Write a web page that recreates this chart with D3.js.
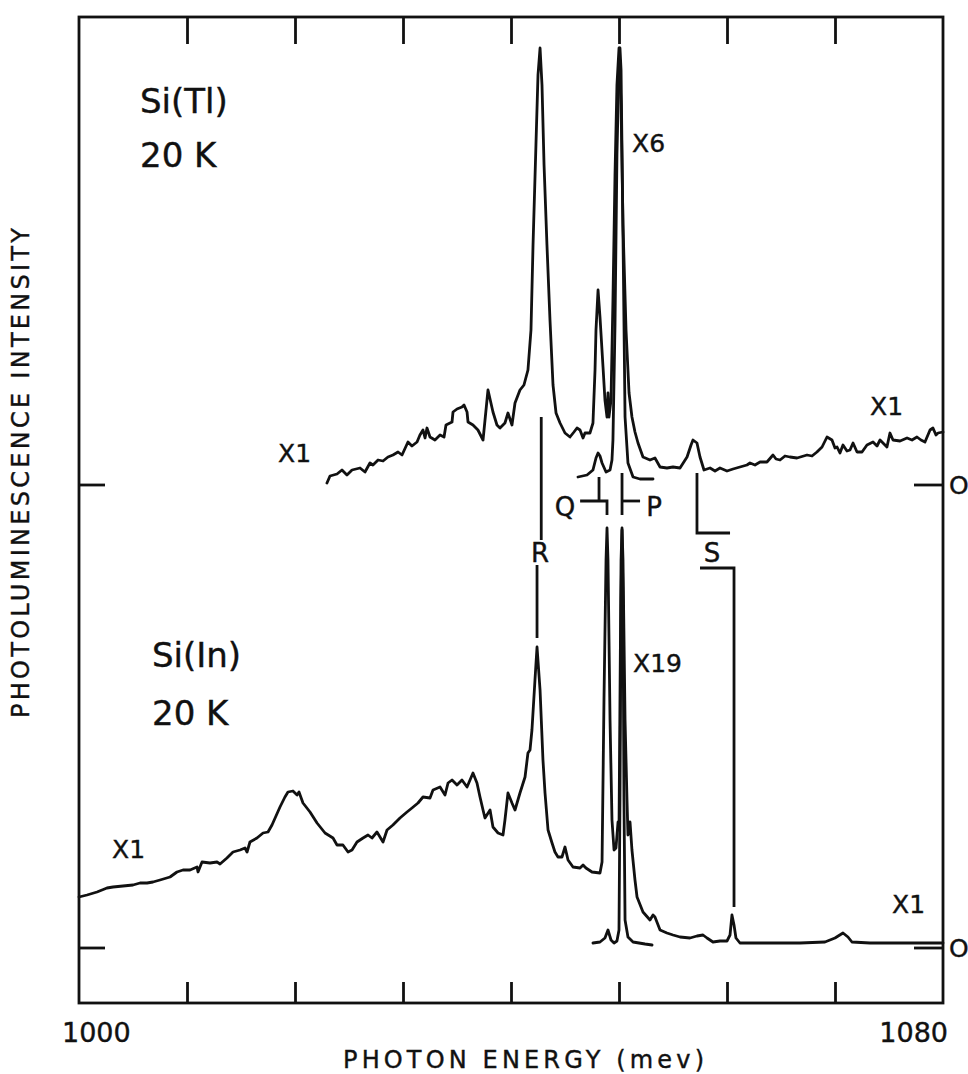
<!DOCTYPE html>
<html>
<head>
<meta charset="utf-8">
<script src="https://cdn.jsdelivr.net/npm/d3@7/dist/d3.min.js"></script>
<style>
  body { margin: 0; background: #fff; }
  text { font-family: "DejaVu Sans", sans-serif; fill: #111; stroke: #111; stroke-width: 0.4; }
  .trace { fill: none; stroke: #111; stroke-width: 2.8; stroke-linejoin: round; stroke-linecap: round; }
  .mark { fill: none; stroke: #111; stroke-width: 2.8; }
</style>
</head>
<body>
<script>
// photon energy axis (meV)
var energyTicks = [1000, 1010, 1020, 1030, 1040, 1050, 1060, 1070, 1080];
var energyLabels = [1000, 1080];

// Si(Tl), 20 K  -- main trace, [energy meV, intensity a.u.]
var tlMain = [
  [1022.96, 2], [1023.24, 9], [1023.89, 11], [1024.35, 15], [1024.81, 10], [1025.28, 15],
  [1026.02, 17], [1026.48, 13], [1026.94, 22], [1027.22, 20], [1027.69, 25], [1028.15, 24],
  [1028.61, 28], [1029.07, 30], [1029.54, 33], [1029.91, 30], [1030.46, 43], [1030.83, 39],
  [1031.30, 43], [1031.57, 50], [1031.85, 55], [1032.04, 47], [1032.22, 57], [1032.50, 48],
  [1032.96, 45], [1033.43, 50], [1033.80, 48], [1033.98, 60], [1034.54, 63], [1034.63, 73],
  [1035.00, 76], [1035.46, 78], [1035.65, 80], [1035.93, 73], [1036.02, 63], [1036.48, 60],
  [1036.94, 55], [1037.41, 45], [1037.87, 95], [1038.33, 73], [1038.70, 60], [1038.98, 57],
  [1039.44, 62], [1039.72, 72], [1040.09, 60], [1040.37, 82], [1040.83, 95], [1041.20, 100],
  [1041.57, 115], [1041.85, 155], [1042.04, 240], [1042.31, 340], [1042.50, 410], [1042.69, 437],
  [1042.87, 400], [1043.06, 320], [1043.33, 240], [1043.61, 165], [1043.89, 100], [1044.17, 72],
  [1044.54, 62], [1045.00, 52], [1045.46, 48], [1045.83, 53], [1046.11, 57], [1046.39, 55],
  [1046.67, 47], [1046.85, 52], [1047.31, 52], [1047.59, 62], [1047.78, 115], [1047.87, 155],
  [1048.06, 195], [1048.24, 168], [1048.52, 118], [1048.70, 85], [1048.89, 68], [1048.98, 92],
  [1049.07, 68], [1049.26, 85], [1049.44, 185], [1049.63, 310], [1049.81, 400], [1050.00, 437],
  [1050.19, 380], [1050.37, 260], [1050.65, 155], [1050.93, 92], [1051.20, 68], [1051.48, 53],
  [1051.76, 42], [1052.22, 28], [1052.87, 25], [1053.33, 27], [1053.80, 18], [1054.44, 17],
  [1055.00, 18], [1055.65, 17], [1056.30, 28], [1056.67, 40], [1056.85, 45], [1057.22, 42],
  [1057.50, 28], [1057.87, 15], [1058.43, 17], [1058.89, 14], [1059.35, 17], [1060.00, 14],
  [1060.56, 16], [1061.20, 18], [1061.85, 20], [1062.13, 22], [1062.59, 20], [1063.06, 23],
  [1063.70, 23], [1064.26, 30], [1064.54, 26], [1064.91, 25], [1065.37, 29], [1065.83, 28],
  [1066.48, 27], [1067.41, 30], [1067.87, 29], [1068.33, 33], [1068.80, 38], [1069.26, 48],
  [1069.72, 45], [1070.00, 37], [1070.19, 38], [1070.46, 32], [1070.74, 40], [1071.11, 34],
  [1071.39, 35], [1071.67, 42], [1072.04, 33], [1072.50, 33], [1072.96, 40], [1073.52, 43],
  [1073.89, 39], [1074.17, 45], [1074.81, 38], [1075.09, 52], [1075.37, 45], [1076.02, 44],
  [1076.67, 47], [1077.13, 45], [1077.59, 48], [1077.96, 45], [1078.33, 43], [1078.80, 55],
  [1079.07, 57], [1079.35, 50], [1079.54, 52], [1080.00, 53]
];

// Si(Tl) -- low gain trace under the P/Q lines
var tlLow = [
  [1046.20, 8], [1047.04, 10], [1047.59, 15], [1047.87, 27], [1048.06, 32], [1048.24, 29],
  [1048.43, 22], [1048.80, 13], [1049.17, 15], [1049.35, 25], [1049.44, 45], [1049.63, 160],
  [1049.81, 330], [1050.00, 420], [1050.09, 437], [1050.19, 415], [1050.37, 250], [1050.56, 68],
  [1050.83, 22], [1051.30, 8], [1051.94, 6], [1053.15, 6]
];

// Si(In), 20 K -- main trace
var inMain = [
  [1000.00, 51], [1000.74, 53], [1001.67, 56], [1002.59, 60], [1003.15, 61], [1004.07, 62],
  [1005.00, 63], [1005.65, 65], [1006.30, 65], [1006.85, 66], [1007.50, 68], [1008.43, 71],
  [1009.07, 76], [1009.63, 78], [1010.28, 78], [1010.93, 81], [1011.02, 76], [1011.39, 86],
  [1012.13, 85], [1012.78, 86], [1013.06, 84], [1013.70, 90], [1014.26, 96], [1014.91, 98],
  [1015.37, 100], [1015.56, 96], [1015.83, 106], [1016.48, 110], [1017.04, 115], [1017.50, 116],
  [1017.87, 123], [1018.24, 132], [1018.61, 141], [1019.07, 151], [1019.35, 156], [1019.81, 157],
  [1020.19, 153], [1020.37, 156], [1020.74, 145], [1021.39, 136], [1022.04, 125], [1022.78, 115],
  [1023.52, 110], [1023.89, 103], [1024.44, 103], [1024.91, 96], [1025.28, 98], [1025.74, 106],
  [1026.30, 110], [1026.76, 113], [1027.13, 110], [1027.59, 116], [1028.15, 106], [1028.52, 118],
  [1029.07, 123], [1029.72, 130], [1030.37, 136], [1030.83, 140], [1031.39, 145], [1031.85, 151],
  [1032.50, 150], [1032.78, 158], [1033.43, 161], [1033.89, 153], [1034.17, 165], [1034.54, 168],
  [1035.00, 163], [1035.46, 168], [1035.93, 161], [1036.48, 175], [1036.85, 165], [1037.13, 151],
  [1037.41, 138], [1037.59, 130], [1038.06, 138], [1038.33, 121], [1038.80, 115], [1039.26, 113],
  [1039.44, 128], [1039.72, 155], [1040.09, 145], [1040.37, 138], [1040.83, 155], [1041.30, 171],
  [1041.57, 195], [1041.76, 198], [1041.94, 218], [1042.22, 268], [1042.41, 301], [1042.69, 258],
  [1042.96, 188], [1043.15, 155], [1043.43, 118], [1043.80, 105], [1044.07, 96], [1044.35, 91],
  [1044.72, 91], [1045.00, 101], [1045.28, 88], [1045.74, 81], [1046.39, 80], [1046.67, 83],
  [1046.94, 80], [1047.50, 76], [1048.24, 75], [1048.43, 86], [1048.61, 248], [1048.80, 388],
  [1048.89, 420], [1048.98, 388], [1049.17, 228], [1049.35, 128], [1049.54, 98], [1049.72, 100],
  [1049.91, 126], [1050.00, 118], [1050.09, 248], [1050.19, 388], [1050.28, 420], [1050.37, 388],
  [1050.56, 228], [1050.74, 148], [1050.83, 113], [1051.02, 126], [1051.20, 98], [1051.48, 68],
  [1051.67, 51], [1052.22, 36], [1052.87, 28], [1053.15, 33], [1053.33, 31], [1053.80, 18],
  [1054.44, 15], [1055.00, 13], [1055.65, 11], [1056.57, 10], [1057.22, 12], [1057.78, 13],
  [1058.15, 10], [1058.70, 6], [1059.35, 7], [1060.00, 7], [1060.28, 13], [1060.46, 33],
  [1060.65, 23], [1060.83, 10], [1061.20, 5], [1063.06, 5], [1066.76, 5], [1069.07, 6],
  [1070.00, 10], [1070.74, 15], [1071.20, 11], [1071.57, 6], [1073.24, 5], [1076.02, 5],
  [1080.00, 5]
];

// Si(In) -- low gain trace under the P/Q lines
var inLow = [
  [1047.59, 5], [1048.24, 6], [1048.70, 10], [1048.98, 18], [1049.26, 8], [1049.54, 5],
  [1049.81, 7], [1050.00, 18], [1050.09, 148], [1050.19, 348], [1050.28, 418], [1050.37, 348],
  [1050.46, 148], [1050.56, 28], [1050.83, 11], [1051.30, 6], [1052.41, 4], [1053.06, 3]
];

// line markers R, Q, P, S (energy, intensity on the Si(Tl) scale)
var markerLines = [
  [[1042.8, 68], [1042.8, -55]],                      // R upper
  [[1042.41, -80], [1042.41, -153]],                  // R lower
  [[1048.15, 8], [1048.15, -16]],                     // Q upper tick
  [[1046.4, -16], [1048.89, -16], [1048.89, -30]],    // Q bar + drop
  [[1050.28, 12], [1050.28, -30]],                    // P drop
  [[1050.28, -16], [1051.95, -16]],                   // P bar
  [[1057.22, 12], [1057.22, -48], [1060.28, -48]],    // S upper
  [[1057.5, -83], [1060.65, -83], [1060.65, -422]]    // S lower
];
var markerNames = ["R", "Q", "P", "S"];

(function() {

    var width = 968, height = 1074;
    // frame edges (avoid the name "top", it is window.top)
    var fL = 79, fR = 943, fT = 17, fB = 1003;

    var svg = d3.select("body").append("svg")
        .attr("width", width)
        .attr("height", height);

    var x = d3.scaleLinear().domain([1000, 1080]).range([fL, fR]);
    // both panels share the same gain in pixels, different zero lines
    var yUp = d3.scaleLinear().domain([0, 468]).range([485, fT]);
    var yLo = d3.scaleLinear().domain([0, 468]).range([948, 480]);

    // frame
    svg.append("rect")
        .attr("x", fL).attr("y", fT)
        .attr("width", fR - fL).attr("height", fB - fT)
        .attr("fill", "none").attr("stroke", "#111").attr("stroke-width", 2.8);

    var inner = energyTicks.filter(function(d) { return d > 1000 && d < 1080; });

    var axTop = svg.append("g").attr("transform", "translate(0," + fT + ")")
        .call(d3.axisBottom(x).tickValues(inner).tickSize(27).tickFormat(""));
    var axBot = svg.append("g").attr("transform", "translate(0," + fB + ")")
        .call(d3.axisTop(x).tickValues(inner).tickSize(21).tickFormat(""));
    [axTop, axBot].forEach(function(a) {
        a.select(".domain").remove();
        a.selectAll("line").attr("stroke", "#111").attr("stroke-width", 2.8);
    });

    // zero ticks on both sides
    [yUp(0), yLo(0)].forEach(function(yy) {
        svg.append("line").attr("class", "mark")
            .attr("x1", fL).attr("x2", fL + 26).attr("y1", yy).attr("y2", yy);
        svg.append("line").attr("class", "mark")
            .attr("x1", fR - 29).attr("x2", fR).attr("y1", yy).attr("y2", yy);
        svg.append("text").attr("x", 949).attr("y", yy + 9)
            .attr("font-size", 25).text("O");
    });

    // traces
    var lineUp = d3.line().x(function(d) { return x(d[0]); }).y(function(d) { return yUp(d[1]); });
    var lineLo = d3.line().x(function(d) { return x(d[0]); }).y(function(d) { return yLo(d[1]); });

    svg.append("path").attr("class", "trace").attr("d", lineUp(tlMain));
    svg.append("path").attr("class", "trace").attr("d", lineUp(tlLow));
    svg.append("path").attr("class", "trace").attr("d", lineLo(inMain));
    svg.append("path").attr("class", "trace").attr("d", lineLo(inLow));

    svg.selectAll(".marker")
        .data(markerLines)
        .enter().append("path")
        .attr("class", "mark")
        .attr("d", lineUp);

    // marker letters
    var markerPos = [[540, 562], [565, 516], [654, 516], [712, 562]];
    markerNames.forEach(function(n, i) {
        svg.append("text")
            .attr("x", markerPos[i][0]).attr("y", markerPos[i][1])
            .attr("text-anchor", "middle")
            .attr("font-size", 26)
            .text(n);
    });

    // sample labels
    function label(t, px, py, size) {
        svg.append("text").attr("x", px).attr("y", py).attr("font-size", size).text(t);
    }
    label("Si(Tl)", 140, 113, 34);
    label("20 K", 140, 167, 34);
    label("Si(In)", 152, 667, 34);
    label("20 K", 152, 725, 34);

    label("X6", 632, 152, 25);
    label("X1", 278, 462, 25);
    label("X1", 870, 415, 25);
    label("X19", 633, 672, 25);
    label("X1", 112, 858, 25);
    label("X1", 892, 913, 25);

    // axis labels
    svg.append("text").attr("x", 62).attr("y", 1042).attr("font-size", 27).text(energyLabels[0]);
    svg.append("text").attr("x", 948).attr("y", 1042).attr("text-anchor", "end")
        .attr("font-size", 27).text(energyLabels[1]);

    svg.append("text")
        .attr("x", 343).attr("y", 1068)
        .attr("font-size", 24)
        .attr("textLength", 361).attr("lengthAdjust", "spacing")
        .text("PHOTON ENERGY (mev)");

    svg.append("text")
        .attr("transform", "translate(29,718) rotate(-90)")
        .attr("font-size", 24)
        .attr("textLength", 490).attr("lengthAdjust", "spacing")
        .text("PHOTOLUMINESCENCE INTENSITY");

})();
</script>
</body>
</html>
